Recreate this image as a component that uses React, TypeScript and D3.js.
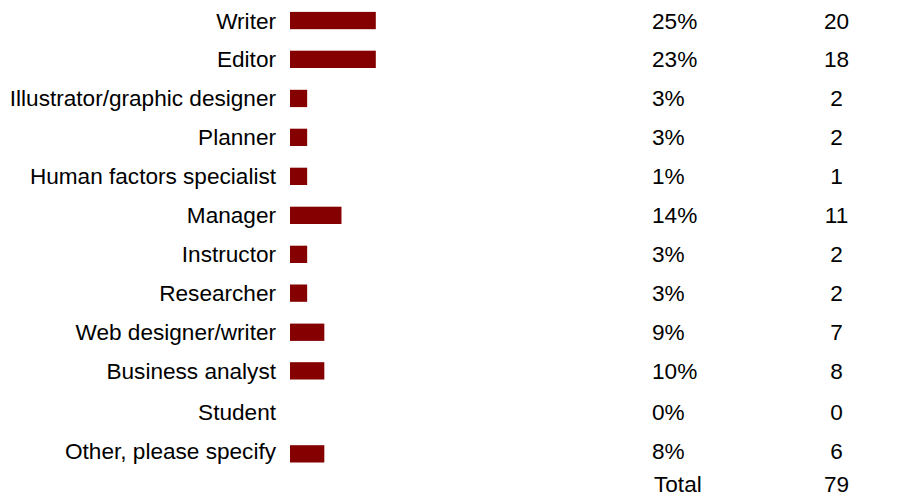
import React from "react";
import * as d3 from "d3";

const categories = [
  "Writer",
  "Editor",
  "Illustrator/graphic designer",
  "Planner",
  "Human factors specialist",
  "Manager",
  "Instructor",
  "Researcher",
  "Web designer/writer",
  "Business analyst",
  "Student",
  "Other, please specify",
];
const percents = [25, 23, 3, 3, 1, 14, 3, 3, 9, 10, 0, 8];
const counts = [20, 18, 2, 2, 1, 11, 2, 2, 7, 8, 0, 6];
const totalLabel = "Total";
const totalCount = 79;

const W = 908;
const H = 503;
const FONT = "Liberation Sans, Arial, Helvetica, sans-serif";
const FS = 22.6;

// layout: vertical centre of each table row (last one is the Total row)
const rowCenters = [20.5, 59.3, 98.4, 137.3, 176.3, 215.3, 254.3, 293.1, 332.2, 370.8, 412.3, 453.8, 484];
const textShift = [0, 0, 0, 0, 0, 0, 0, 0, 0, 0, 0, -3, 0];

export default function App() {
  // bars are drawn in 5% blocks
  const x = d3.scaleLinear().domain([0, 5]).range([0, 85.8]);
  const blocks = (p: number) => Math.ceil(p / 5);
  const base = (i: number) => rowCenters[i] + textShift[i] + 8;

  return (
    <svg
      width={W}
      height={H}
      style={{ position: "absolute", left: 0, top: 0, display: "block", background: "#fff" }}
      fontFamily={FONT}
      fontSize={FS}
    >
      {categories.map((c, i) => (
        <g key={c}>
          <text x={276} y={base(i)} textAnchor="end" fill="#000">
            {c}
          </text>
          {percents[i] > 0 && (
            <rect
              x={290}
              y={rowCenters[i] - 8.6}
              width={x(blocks(percents[i]))}
              height={17.3}
              fill="#850000"
            />
          )}
          <text x={652} y={base(i)} fill="#000">
            {percents[i]}%
          </text>
          <text x={836.5} y={base(i)} textAnchor="middle" fill="#000">
            {counts[i]}
          </text>
        </g>
      ))}
      <text x={654} y={base(categories.length)} fill="#000">
        {totalLabel}
      </text>
      <text x={836.5} y={base(categories.length)} textAnchor="middle" fill="#000">
        {totalCount}
      </text>
    </svg>
  );
}
